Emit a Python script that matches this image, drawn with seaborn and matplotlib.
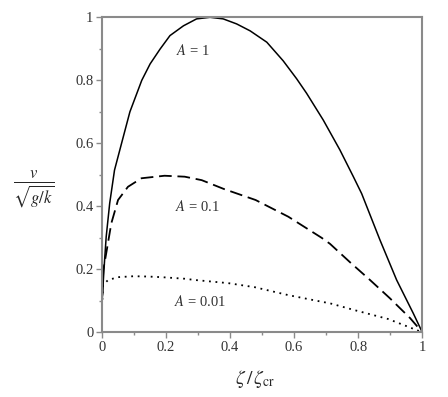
import numpy as np
import pandas as pd
import matplotlib
matplotlib.use("Agg")
import matplotlib.pyplot as plt
import seaborn as sns
from matplotlib.ticker import MultipleLocator, FuncFormatter

# values
zeta_a1 = [0, 0.001, 0.007, 0.014, 0.025, 0.04, 0.062, 0.088, 0.125, 0.151,
           0.182, 0.213, 0.255, 0.296, 0.338, 0.379, 0.421, 0.463, 0.515,
           0.566, 0.608, 0.639, 0.691, 0.743, 0.785, 0.811, 0.868, 0.92,
           0.972, 1.0]
v_a1 = [0, 0.092, 0.198, 0.303, 0.41, 0.515, 0.60, 0.70, 0.80, 0.852,
        0.899, 0.942, 0.973, 0.995, 1.0, 0.995, 0.979, 0.957, 0.921,
        0.862, 0.805, 0.759, 0.674, 0.579, 0.494, 0.44, 0.293, 0.166,
        0.06, 0.0]

zeta_a01 = [0, 0.001, 0.005, 0.014, 0.03, 0.051, 0.082, 0.124, 0.196, 0.259,
            0.312, 0.381, 0.48, 0.582, 0.686, 0.712, 0.775, 0.837, 0.899,
            0.962, 1.0]
v_a01 = [0, 0.09, 0.198, 0.25, 0.346, 0.42, 0.462, 0.489, 0.497, 0.494,
         0.483, 0.455, 0.42, 0.367, 0.300, 0.281, 0.222, 0.166, 0.108,
         0.045, 0.0]

zeta_a001 = [0, 0.001, 0.004, 0.02, 0.051, 0.1, 0.144, 0.187, 0.259, 0.291,
             0.395, 0.478, 0.582, 0.686, 0.712, 0.79, 0.894, 1.0]
v_a001 = [0, 0.08, 0.15, 0.166, 0.175, 0.178, 0.177, 0.175, 0.17, 0.166,
          0.156, 0.143, 0.118, 0.097, 0.092, 0.07, 0.042, 0.0]

labels = ["$A$ = 1", "$A$ = 0.1", "$A$ = 0.01"]
label_x = [0.285, 0.297, 0.307]
label_y = [0.896, 0.398, 0.099]

sns.set_style("white")
plt.rcParams["font.family"] = ["Liberation Serif", "DejaVu Serif"]
plt.rcParams["mathtext.fontset"] = "stix"

fig = plt.figure(figsize=(4.48, 3.97), dpi=100)
ax = fig.add_axes([0.227, 0.163, 0.7156, 0.7934])

grey = "#8a8a8a"
series = [(zeta_a1, v_a1, "-", 1.1),
          (zeta_a01, v_a01, (0, (7, 3.2)), 1.3),
          (zeta_a001, v_a001, (0, (1, 2.6)), 1.3)]
for xs, ys, ls, lw in series:
    df = pd.DataFrame({"zeta": xs, "v": ys})
    sns.lineplot(data=df, x="zeta", y="v", ax=ax, color="black",
                 linestyle=ls, linewidth=lw, estimator=None, sort=False)

for t, x, y in zip(labels, label_x, label_y):
    ax.text(x, y, t, fontsize=10.5, ha="center", va="center", color="#333333")

ax.set_xlim(0, 1)
ax.set_ylim(0, 1)
ax.xaxis.set_major_locator(MultipleLocator(0.2))
ax.xaxis.set_minor_locator(MultipleLocator(0.1))
ax.yaxis.set_major_locator(MultipleLocator(0.2))
ax.yaxis.set_minor_locator(MultipleLocator(0.1))
fmt = FuncFormatter(lambda v, p: f"{v:g}")
ax.xaxis.set_major_formatter(fmt)
ax.yaxis.set_major_formatter(fmt)
ax.tick_params(which="major", direction="out", length=4, width=1, color=grey,
               labelsize=10.5, pad=2, labelcolor="#333333")
ax.tick_params(which="minor", direction="out", length=2.5, width=1, color=grey)
ax.tick_params(bottom=True, left=True, which="both")

for s in ax.spines.values():
    s.set_color(grey)
    s.set_linewidth(1.5)
    s.set_visible(True)

ax.set_xlabel(r"$\zeta\,/\,\zeta_{\mathrm{cr}}$", fontsize=14, va="center")
ax.xaxis.set_label_coords(0.478, -0.148)
ax.set_ylabel(r"$\frac{v}{\sqrt{g/k}}$", fontsize=17, rotation=0, va="center", ha="center")
ax.yaxis.set_label_coords(-0.211, 0.455)

fig.savefig("out.png", dpi=100)
